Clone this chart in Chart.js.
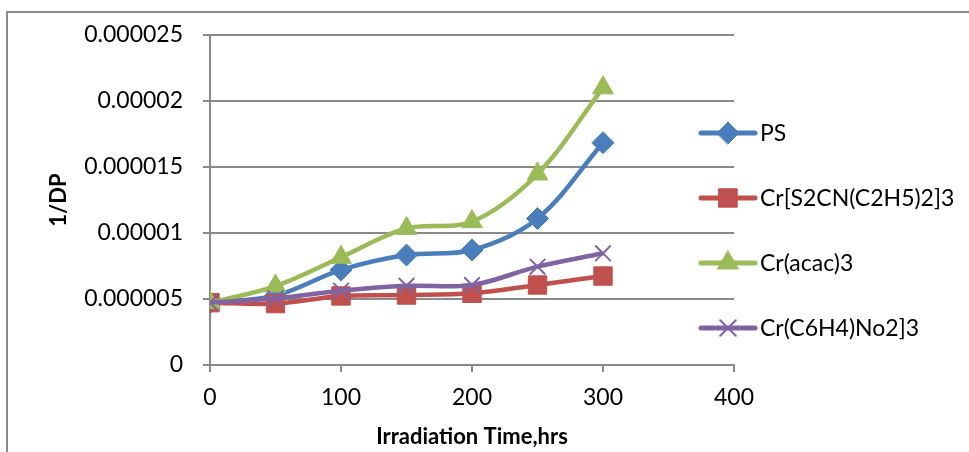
<!DOCTYPE html>
<html>
<head>
<meta charset="utf-8">
<script src="https://cdn.jsdelivr.net/npm/chart.js@4"></script>
<style>
  html, body { margin: 0; padding: 0; background: #fff; }
  #wrap { position: relative; width: 969px; height: 452px; overflow: hidden; }
  #frame { position: absolute; left: 6px; top: 11px; width: 1000px; height: 500px;
           border-left: 2px solid #8c8c8c; border-top: 2px solid #8c8c8c; }
  canvas { position: absolute; left: 0; top: 0; }
</style>
</head>
<body>
<div id="wrap">
  <div id="frame"></div>
  <canvas id="chart" width="969" height="452"></canvas>
</div>
<script>
// Irradiation time (hrs) on the x axis
const hours = [0, 50, 100, 150, 200, 250, 300];

// 1/DP values per sample
const psValues     = [4.72e-6, 5.25e-6, 7.2e-6, 8.33e-6, 8.71e-6, 11.1e-6, 16.84e-6];
const dtcValues    = [4.72e-6, 4.65e-6, 5.23e-6, 5.3e-6, 5.43e-6, 6.06e-6, 6.74e-6];
const acacValues   = [4.72e-6, 5.98e-6, 8.16e-6, 10.35e-6, 10.86e-6, 14.47e-6, 21.0e-6];
const nitroValues  = [4.72e-6, 5.05e-6, 5.63e-6, 6.0e-6, 6.06e-6, 7.45e-6, 8.46e-6];

const seriesNames = ['PS', 'Cr[S2CN(C2H5)2]3', 'Cr(acac)3', 'Cr(C6H4)No2]3'];

// axis ticks
const xTickValues = [0, 100, 200, 300, 400];
const yTickValues = [0, 0.000005, 0.00001, 0.000015, 0.00002, 0.000025];
const yTickLabels = ['0', '0.000005', '0.00001', '0.000015', '0.00002', '0.000025'];

const FONT = 'Lato, "Open Sans", sans-serif';
const GRID = '#8a8a8a';

function toPoints(values) {
    return values.map((v, i) => ({ x: hours[i], y: v }));
}

function makeDataset(label, values, color, style, radius, order, extra) {
    return Object.assign({
        label: label,
        data: toPoints(values),
        borderColor: color,
        backgroundColor: color,
        borderWidth: 4.5,
        tension: 0.35,
        pointStyle: style,
        pointRadius: radius,
        pointBackgroundColor: color,
        pointBorderColor: color,
        pointBorderWidth: 1,
        order: order
    }, extra || {});
}

const datasets = [
    makeDataset(seriesNames[0], psValues, '#4a7ebb', 'rectRot', 11, 3),
    makeDataset(seriesNames[1], dtcValues, '#c0504d', 'rect', 13, 2),
    makeDataset(seriesNames[2], acacValues, '#9bbb59', 'triangle', 12, 1),
    makeDataset(seriesNames[3], nitroValues, '#8064a2', 'crossRot', 11, 0, { pointBorderWidth: 2 })
];

// Excel-like legend: line with marker in the middle, then the label
const sideLegend = {
    id: 'sideLegend',
    afterDraw: function (chart) {
        const ctx = chart.ctx;
        const x0 = chart.chartArea.right - 33;
        const top = 133;
        const step = 65;
        ctx.save();
        chart.data.datasets.forEach((ds, i) => {
            const y = top + i * step;
            ctx.strokeStyle = ds.borderColor;
            ctx.lineWidth = 5;
            ctx.lineCap = 'round';
            ctx.beginPath();
            ctx.moveTo(x0, y);
            ctx.lineTo(x0 + 54, y);
            ctx.stroke();

            ctx.fillStyle = ds.pointBackgroundColor;
            ctx.strokeStyle = ds.pointBorderColor;
            ctx.lineWidth = ds.pointBorderWidth;
            Chart.helpers.drawPoint(ctx, {
                pointStyle: ds.pointStyle,
                radius: ds.pointRadius,
                rotation: 0,
                borderWidth: ds.pointBorderWidth
            }, x0 + 27, y);

            ctx.fillStyle = '#000';
            ctx.font = '23px ' + FONT;
            ctx.textBaseline = 'middle';
            ctx.textAlign = 'left';
            ctx.fillText(ds.label, x0 + 59, y + 1);
        });
        ctx.restore();
    }
};

const ctx = document.getElementById('chart').getContext('2d');
new Chart(ctx, {
    type: 'line',
    data: { datasets: datasets },
    options: {
        responsive: false,
        animation: false,
        devicePixelRatio: 1,
        layout: { padding: { top: 35, right: 235, bottom: 0, left: 0 } },
        plugins: {
            legend: { display: false },
            tooltip: { enabled: false }
        },
        scales: {
            x: {
                type: 'linear',
                min: 0,
                max: 400,
                afterBuildTicks: function (axis) {
                    axis.ticks = xTickValues.map(v => ({ value: v }));
                },
                afterFit: function (axis) { axis.height = 87; },
                grid: { drawOnChartArea: false, color: GRID, lineWidth: 2, tickLength: 7 },
                border: { color: GRID, width: 2 },
                ticks: { color: '#000', font: { family: FONT, size: 23 }, padding: 12, maxRotation: 0 },
                title: {
                    display: true,
                    text: 'Irradiation Time,hrs',
                    color: '#000',
                    font: { family: FONT, size: 22, weight: 'bold' },
                    padding: { top: 0, bottom: 2 }
                }
            },
            y: {
                min: 0,
                max: 0.000025,
                afterBuildTicks: function (axis) {
                    axis.ticks = yTickValues.map(v => ({ value: v }));
                },
                afterFit: function (axis) { axis.width = 210; },
                grid: { color: GRID, lineWidth: 2, tickLength: 7 },
                border: { color: GRID, width: 2 },
                ticks: {
                    color: '#000',
                    font: { family: FONT, size: 23 },
                    padding: 20,
                    callback: function (value, index) { return yTickLabels[index]; }
                },
                title: {
                    display: true,
                    text: '1/DP',
                    color: '#000',
                    font: { family: FONT, size: 22, weight: 'bold' },
                    padding: { top: 46, bottom: 0 }
                }
            }
        }
    },
    plugins: [sideLegend]
});
</script>
</body>
</html>
